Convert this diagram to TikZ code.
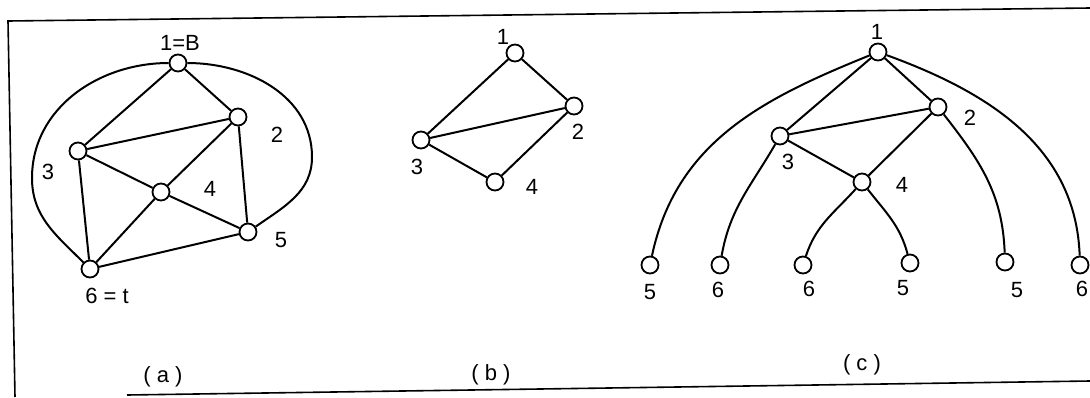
\documentclass[tikz,border=0pt]{standalone}
\usepackage{fontspec}
\setmainfont{Liberation Sans}
\begin{document}
\begin{tikzpicture}[x=1pt,y=-1pt,line width=2pt,
  vtx/.style={circle,draw,fill=white,minimum size=17pt,inner sep=0pt,line width=1.8pt},
  lbl/.style={font=\fontsize{22}{24}\selectfont,inner sep=0pt},
  edge/.style={draw,line width=2pt}]
\useasboundingbox (0,0) rectangle (1090,397);
% frame
\coordinate (ftl) at (8,21);
\coordinate (ftr) at (1090,8);
\coordinate (fbl) at (15,397);
\coordinate (fbs) at (127,395);
\coordinate (fbr) at (1090,381);
\draw[line width=1.6pt] (fbl) -- (ftl) -- (ftr);
\draw[line width=1.6pt] (fbs) -- (fbr);
% ---------- (a)
\node[vtx] (a1) at (178,63) {};
\node[vtx] (a2) at (238,117) {};
\node[vtx] (a3) at (78,151) {};
\node[vtx] (a4) at (161,192) {};
\node[vtx] (a5) at (248,232) {};
\node[vtx] (a6) at (90,269) {};
\coordinate (aL) at (32,178);
\coordinate (aR) at (312,157);
\path[edge] (a1) to[out=180,in=90] (aL) to[out=-90,in=135] (a6);
\path[edge] (a1) to[out=0,in=90] (aR) to[out=-90,in=35] (a5);
\path[edge] (a1)--(a2) (a1)--(a3) (a3)--(a2) (a2)--(a4) (a2)--(a5)
  (a3)--(a4) (a3)--(a6) (a4)--(a6) (a4)--(a5) (a6)--(a5);
\node[lbl] (la1) at (180,43) {1=B};
\node[lbl] (la2) at (277,135) {2};
\node[lbl] (la3) at (48,172) {3};
\node[lbl] (la4) at (210,189) {4};
\node[lbl] (la5) at (281,240) {5};
\node[lbl] (la6) at (107,296) {6 = t};
\node[lbl] (capa) at (163,377) {( a )};
% ---------- (b)
\node[vtx] (b1) at (515,53) {};
\node[vtx] (b2) at (574,106) {};
\node[vtx] (b3) at (421,140) {};
\node[vtx] (b4) at (495,182) {};
\path[edge] (b1)--(b2) (b1)--(b3) (b3)--(b2) (b3)--(b4) (b4)--(b2);
\node[lbl] (lb1) at (503,37) {1};
\node[lbl] (lb2) at (578,132) {2};
\node[lbl] (lb3) at (417,167) {3};
\node[lbl] (lb4) at (532,187) {4};
\node[lbl] (capb) at (491,375) {( b )};
% ---------- (c)
\node[vtx] (c1) at (878,52) {};
\node[vtx] (c2) at (938,107) {};
\node[vtx] (c3) at (780,136) {};
\node[vtx] (c4) at (862,182) {};
\node[vtx] (k1) at (650,265) {};
\node[vtx] (k2) at (720,265) {};
\node[vtx] (k3) at (803,265) {};
\node[vtx] (k4) at (910,263) {};
\node[vtx] (k5) at (1005,262) {};
\node[vtx] (k6) at (1080,265) {};
\path[edge] (c1)--(c3) (c1)--(c2) (c3)--(c2) (c3)--(c4) (c2)--(c4);
\path[edge] (c1) to[out=202,in=78] (k1);
\path[edge] (c3) to[out=240,in=80] (k2);
\path[edge] (c4) to[out=228,in=72] (k3);
\path[edge] (c4) to[out=-52,in=105] (k4);
\path[edge] (c2) to[out=-52,in=92] (k5);
\path[edge] (c1) to[out=-20,in=92] (k6);
\node[lbl] (lc1) at (877,32) {1};
\node[lbl] (lc2) at (970,118) {2};
\node[lbl] (lc3) at (788,162) {3};
\node[lbl] (lc4) at (902,185) {4};
\node[lbl] (lk1) at (650,292) {5};
\node[lbl] (lk2) at (718,290) {6};
\node[lbl] (lk3) at (809,289) {6};
\node[lbl] (lk4) at (903,288) {5};
\node[lbl] (lk5) at (1017,290) {5};
\node[lbl] (lk6) at (1082,289) {6};
\node[lbl] (capc) at (862,365) {( c )};
\end{tikzpicture}
\end{document}
